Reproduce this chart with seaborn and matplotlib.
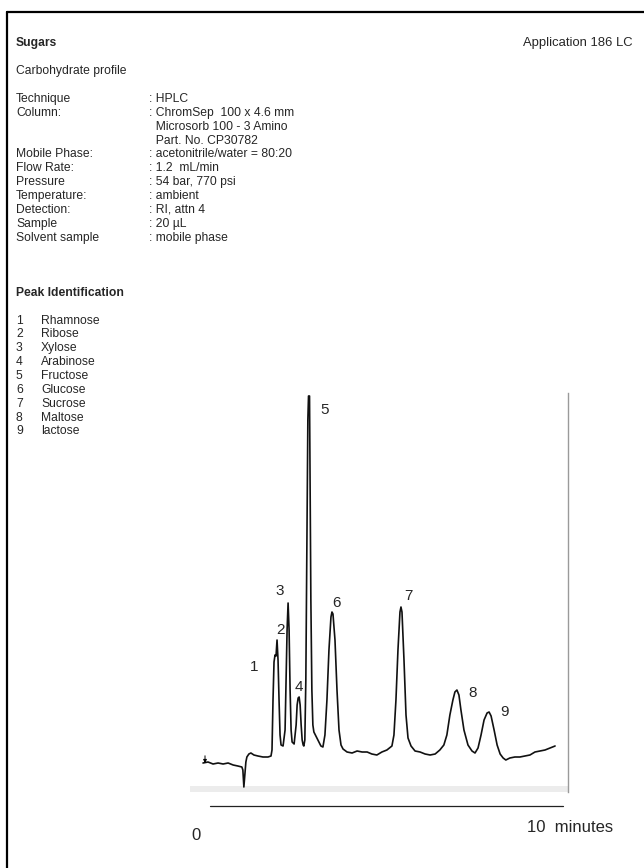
import numpy as np
import pandas as pd
import matplotlib
matplotlib.use("Agg")
import matplotlib.pyplot as plt
import seaborn as sns
from matplotlib.lines import Line2D

time_min = [0.00, 0.15, 0.30, 0.45, 0.60, 0.75, 0.90, 1.04, 1.16, 1.19,
            1.22, 1.25, 1.28, 1.31, 1.37, 1.43, 1.52, 1.64, 1.79, 1.94,
            2.03, 2.06, 2.09, 2.12, 2.15, 2.18, 2.21, 2.24, 2.27, 2.30,
            2.33, 2.39, 2.45, 2.48, 2.51, 2.54, 2.57, 2.60, 2.63, 2.66,
            2.72, 2.78, 2.81, 2.84, 2.87, 2.90, 2.93, 2.96, 2.99, 3.01,
            3.04, 3.07, 3.10, 3.13, 3.15, 3.18, 3.19, 3.22, 3.25, 3.28,
            3.31, 3.37, 3.46, 3.52, 3.58, 3.64, 3.70, 3.76, 3.82, 3.85,
            3.88, 3.94, 4.00, 4.06, 4.12, 4.18, 4.30, 4.45, 4.60, 4.75,
            4.90, 5.04, 5.19, 5.34, 5.49, 5.64, 5.70, 5.76, 5.82, 5.88,
            5.91, 5.94, 6.00, 6.06, 6.12, 6.21, 6.33, 6.48, 6.63, 6.78,
            6.93, 7.07, 7.19, 7.28, 7.37, 7.46, 7.52, 7.58, 7.64, 7.70,
            7.79, 7.91, 8.03, 8.12, 8.21, 8.30, 8.39, 8.48, 8.54, 8.60,
            8.69, 8.78, 8.87, 8.96, 9.04, 9.16, 9.31, 9.46, 9.61, 9.76,
            9.91, 10.06, 10.21, 10.36, 10.51]
response_mv = [-0.6, -0.5, -0.7, -0.6, -0.7, -0.6, -0.8, -0.9, -1.0, -1.3,
               -3.0, -1.8, -0.5, 0.0, 0.3, 0.4, 0.2, 0.1, 0.0, 0.0,
               0.1, 0.7, 5.7, 9.5, 10.2, 10.1, 11.7, 9.7, 5.7, 2.2,
               1.2, 1.1, 2.7, 7.7, 12.7, 15.4, 12.7, 6.7, 2.7, 1.5,
               1.3, 3.2, 5.2, 5.9, 6.0, 5.2, 3.2, 1.7, 1.2, 1.1,
               1.7, 7.7, 20.7, 33.7, 36.1, 36.1, 30.7, 15.7, 6.7, 3.2,
               2.5, 2.1, 1.5, 1.1, 1.0, 2.2, 5.7, 10.7, 14.0, 14.5,
               14.3, 11.7, 6.7, 2.7, 1.2, 0.8, 0.5, 0.4, 0.6, 0.5,
               0.5, 0.3, 0.2, 0.5, 0.7, 1.1, 2.2, 5.7, 10.7, 14.5,
               15.0, 14.5, 9.7, 4.2, 1.9, 1.1, 0.6, 0.5, 0.3, 0.2,
               0.3, 0.7, 1.2, 2.2, 4.2, 5.7, 6.5, 6.7, 6.2, 4.7,
               2.7, 1.2, 0.6, 0.4, 0.9, 2.2, 3.7, 4.4, 4.5, 4.1,
               2.7, 1.2, 0.3, -0.1, -0.3, -0.1, 0.0, 0.0, 0.1, 0.2,
               0.5, 0.6, 0.7, 0.9, 1.1]

peak_numbers = ["1", "2", "3", "4", "5", "6", "7", "8", "9"]
peak_names = ["Rhamnose", "Ribose", "Xylose", "Arabinose", "Fructose",
              "Glucose", "Sucrose", "Maltose", "lactose"]

param_names = ["Technique", "Column:", "", "", "Mobile Phase:", "Flow Rate:",
               "Pressure", "Temperature:", "Detection:", "Sample",
               "Solvent sample"]
param_values = [": HPLC", ": ChromSep  100 x 4.6 mm",
                "  Microsorb 100 - 3 Amino", "  Part. No. CP30782",
                ": acetonitrile/water = 80:20", ": 1.2  mL/min",
                ": 54 bar, 770 psi", ": ambient", ": RI, attn 4", ": 20 µL",
                ": mobile phase"]

# position des numéros de pic (en unités des axes)
label_t = [1.52, 2.30, 2.30, 2.87, 3.64, 4.00, 6.12, 8.06, 9.01]
label_r = [9.0, 12.7, 16.6, 7.0, 34.7, 15.4, 16.1, 6.4, 4.5]

W, H = 644, 868


def fx(px):
    return px / W


def fy(py):
    return 1 - py / H


sns.set_theme(style="white")
plt.rcParams["font.family"] = ["Liberation Sans", "DejaVu Sans"]

fig = plt.figure(figsize=(W / 100, H / 100), dpi=100)
fig.patch.set_facecolor("white")

# cadre de la page
fig.add_artist(Line2D([fx(6.5), 1], [fy(11.5), fy(11.5)], color="black", lw=1.6))
fig.add_artist(Line2D([fx(6.5), fx(6.5)], [fy(11.5), 0], color="black", lw=1.6))

# en-tête
body = 8.7
fig.text(fx(16), fy(43), "Sugars", fontsize=body, weight="bold", va="center")
fig.text(fx(633), fy(43), "Application 186 LC", fontsize=9.4, ha="right", va="center")
fig.text(fx(16), fy(71), "Carbohydrate profile", fontsize=body, va="center")

step = 13.85
for i, (name, val) in enumerate(zip(param_names, param_values)):
    y = 99 + i * step
    fig.text(fx(16), fy(y), name, fontsize=body, va="center")
    fig.text(fx(149), fy(y), val, fontsize=body, va="center")

fig.text(fx(16), fy(293), "Peak Identification", fontsize=body, weight="bold", va="center")
for i, (num, name) in enumerate(zip(peak_numbers, peak_names)):
    y = 320.6 + i * step
    fig.text(fx(16), fy(y), num, fontsize=body, va="center")
    fig.text(fx(41), fy(y), name, fontsize=body, va="center")

# chromatogramme
df = pd.DataFrame({"time": time_min, "response": response_mv})
ax = fig.add_axes([fx(190), fy(792), (568 - 190) / W, (792 - 393) / H])
ax.set_facecolor("white")
ax.axhspan(-3.5, -2.9, color="#ececec", lw=0)
sns.lineplot(data=df, x="time", y="response", ax=ax, color="#111111",
             lw=1.2, estimator=None, sort=False)
ax.set_xlim(-0.388, 10.896)
ax.set_ylim(-3.5, 36.4)
ax.set_xticks([])
ax.set_yticks([])
ax.set_xlabel("")
ax.set_ylabel("")
for s in ["top", "left", "bottom"]:
    ax.spines[s].set_visible(False)
ax.spines["right"].set_color("#9a9a9a")
ax.spines["right"].set_linewidth(1.0)

for num, t, r in zip(peak_numbers, label_t, label_r):
    ax.text(t, r, num, fontsize=11, ha="center", va="center", clip_on=False)

# injection
ax.annotate("", xy=(0.06, -0.9), xytext=(0.06, 0.4),
            arrowprops=dict(arrowstyle="-|>", lw=0.7, color="black", mutation_scale=5))

# échelle de temps
fig.add_artist(Line2D([fx(210), fx(563)], [fy(806), fy(806)], color="#222222", lw=0.9))
fig.text(fx(196), fy(835), "0", fontsize=12, ha="center", va="center")
fig.text(fx(527), fy(828), "10  minutes", fontsize=12, ha="left", va="center")

fig.savefig("out.png", dpi=100, facecolor="white")
